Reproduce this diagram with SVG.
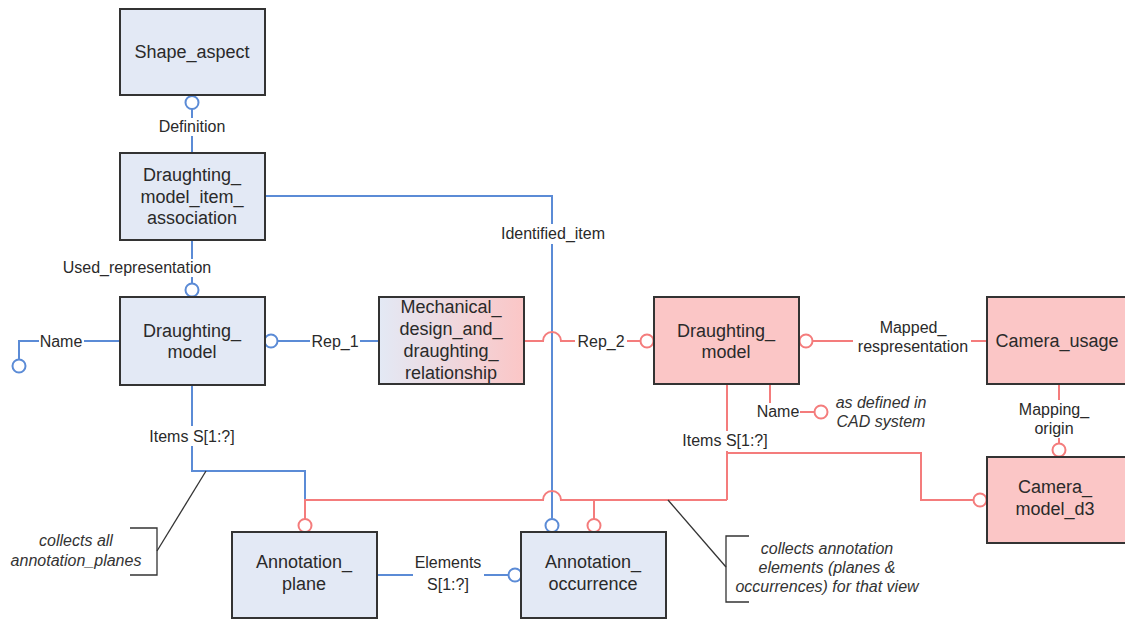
<svg xmlns="http://www.w3.org/2000/svg" width="1125" height="619" viewBox="0 0 1125 619">
  <defs>
    <linearGradient id="mixFill" x1="0" y1="0" x2="1" y2="0">
      <stop offset="0" stop-color="#e3e9f5"/>
      <stop offset="1" stop-color="#fbc6c6"/>
    </linearGradient>
    <style>
      .box { stroke: #333; stroke-width: 2; }
      .blue-box { fill: #e3e9f5; }
      .red-box { fill: #fbc6c6; }
      .mix-box { fill: url(#mixFill); }
      .node-text { font-family: "Liberation Sans", Arial, sans-serif; font-size: 18px; fill: #2a2a2a; text-anchor: middle; }
      .lbl { font-family: "Liberation Sans", Arial, sans-serif; font-size: 16px; fill: #2a2a2a; text-anchor: middle; }
      .note { font-family: "Liberation Sans", Arial, sans-serif; font-size: 16px; font-style: italic; fill: #333; text-anchor: middle; }
      .bl { fill: none; stroke: #5b8bd6; stroke-width: 2; }
      .rd { fill: none; stroke: #f47c7c; stroke-width: 2; }
      .bl-c { fill: #fff; stroke: #5b8bd6; stroke-width: 2; }
      .rd-c { fill: #fff; stroke: #f47c7c; stroke-width: 2; }
      .call { fill: none; stroke: #333; stroke-width: 1.3; }
      .bg { fill: #fff; }
    </style>
  </defs>

  <rect width="1125" height="619" fill="#fff"/>

  <!-- connectors -->
  <g id="connectors">
    <!-- blue: Shape_aspect / Draughting_model_item_association -->
    <path class="bl" d="M192,109 V153"/>
    <circle class="bl-c" cx="192" cy="102.5" r="6.5"/>
    <!-- blue: association to Draughting_model -->
    <path class="bl" d="M192,240 V283.5"/>
    <circle class="bl-c" cx="192" cy="290" r="6.5"/>
    <!-- blue: identified item -->
    <path class="bl" d="M265,196 H552 V518.5"/>
    <circle class="bl-c" cx="552" cy="525.5" r="6.5"/>
    <!-- blue: Name (left) -->
    <path class="bl" d="M120,341 H19 V359.5"/>
    <circle class="bl-c" cx="19" cy="366" r="6.5"/>
    <!-- blue: Rep_1 -->
    <path class="bl" d="M277.5,341 H379"/>
    <circle class="bl-c" cx="271" cy="341" r="6.5"/>
    <!-- blue: Items of Draughting_model -->
    <path class="bl" d="M192,385 V471 H305 V500"/>
    <!-- blue: Elements -->
    <path class="bl" d="M377,575 H508.5"/>
    <circle class="bl-c" cx="515" cy="575" r="6.5"/>

    <!-- red: Rep_2 with hop over the blue line -->
    <path class="rd" d="M524,341 H543 A9,9 0 0 1 561,341 H640.5"/>
    <circle class="rd-c" cx="647" cy="341" r="6.5"/>
    <!-- red: Mapped_respresentation -->
    <path class="rd" d="M812.5,341 H987"/>
    <circle class="rd-c" cx="806" cy="341" r="6.5"/>
    <!-- red: Mapping_origin -->
    <path class="rd" d="M1059,384 V443.5"/>
    <circle class="rd-c" cx="1059" cy="450" r="6.5"/>
    <!-- red: Name (right) -->
    <path class="rd" d="M770,384 V412 H814.5"/>
    <circle class="rd-c" cx="821" cy="412" r="6.5"/>
    <!-- red: Items of Draughting_model (view) -->
    <path class="rd" d="M727,384 V500"/>
    <path class="rd" d="M305,519 V500 H543 A9,9 0 0 1 561,500 H727"/>
    <path class="rd" d="M727,453 H921 V500 H973.5"/>
    <path class="rd" d="M594,500 V519"/>
    <circle class="rd-c" cx="305" cy="525.5" r="6.5"/>
    <circle class="rd-c" cx="594" cy="525.5" r="6.5"/>
    <circle class="rd-c" cx="980" cy="500" r="6.5"/>

    <!-- callout leaders and brackets -->
    <path class="call" d="M206,471 L157,551"/>
    <path class="call" d="M130,528 H157 V575 H130"/>
    <path class="call" d="M668,500 L726,567"/>
    <path class="call" d="M749,536 H726 V602 H749"/>
  </g>

  <!-- connector labels -->
  <g id="labels">
    <rect class="bg" x="158" y="118" width="68" height="18"/>
    <text class="lbl" x="192" y="132">Definition</text>
    <rect class="bg" x="60" y="259" width="154" height="18"/>
    <text class="lbl" x="137" y="273">Used_representation</text>
    <rect class="bg" x="499" y="224" width="110" height="20"/>
    <text class="lbl" x="553" y="239">Identified_item</text>
    <rect class="bg" x="39" y="332" width="45" height="18"/>
    <text class="lbl" x="61" y="347">Name</text>
    <rect class="bg" x="310" y="332" width="50" height="18"/>
    <text class="lbl" x="335" y="347">Rep_1</text>
    <rect class="bg" x="575" y="332" width="52" height="18"/>
    <text class="lbl" x="601" y="347">Rep_2</text>
    <rect class="bg" x="146" y="426" width="92" height="20"/>
    <text class="lbl" x="192" y="442">Items S[1:?]</text>
    <rect class="bg" x="413" y="555" width="71" height="40"/>
    <text class="lbl" x="448" y="568">Elements</text>
    <text class="lbl" x="448" y="590">S[1:?]</text>
    <rect class="bg" x="853" y="318" width="118" height="40"/>
    <text class="lbl" x="913" y="333">Mapped_</text>
    <text class="lbl" x="913" y="352">respresentation</text>
    <rect class="bg" x="1016" y="400" width="78" height="38"/>
    <text class="lbl" x="1054" y="415">Mapping_</text>
    <text class="lbl" x="1054" y="434">origin</text>
    <rect class="bg" x="756" y="403" width="44" height="18"/>
    <text class="lbl" x="778" y="417">Name</text>
    <rect class="bg" x="680" y="431" width="92" height="20"/>
    <text class="lbl" x="725" y="446">Items S[1:?]</text>
  </g>

  <!-- notes -->
  <g id="notes">
    <text class="note" x="881" y="408">as defined in</text>
    <text class="note" x="881" y="427">CAD system</text>
    <text class="note" x="76" y="546">collects all</text>
    <text class="note" x="76" y="566">annotation_planes</text>
    <text class="note" x="827" y="554">collects annotation</text>
    <text class="note" x="827" y="573">elements (planes &amp;</text>
    <text class="note" x="827" y="592">occurrences) for that view</text>
  </g>

  <!-- nodes -->
  <g id="shape_aspect">
    <rect class="box blue-box" x="120" y="9" width="145" height="86"/>
    <text class="node-text" x="192" y="58">Shape_aspect</text>
  </g>
  <g id="draughting_model_item_association">
    <rect class="box blue-box" x="120" y="153" width="145" height="87"/>
    <text class="node-text" x="192" y="181">Draughting_</text>
    <text class="node-text" x="192" y="203">model_item_</text>
    <text class="node-text" x="192" y="224">association</text>
  </g>
  <g id="draughting_model_design">
    <rect class="box blue-box" x="120" y="297" width="145" height="88"/>
    <text class="node-text" x="192" y="337">Draughting_</text>
    <text class="node-text" x="192" y="358">model</text>
  </g>
  <g id="mechanical_design_and_draughting_relationship">
    <rect class="box mix-box" x="379" y="297" width="145" height="87"/>
    <text class="node-text" x="451" y="313">Mechanical_</text>
    <text class="node-text" x="451" y="335">design_and_</text>
    <text class="node-text" x="451" y="357">draughting_</text>
    <text class="node-text" x="451" y="379">relationship</text>
  </g>
  <g id="draughting_model_view">
    <rect class="box red-box" x="654" y="297" width="145" height="87"/>
    <text class="node-text" x="726" y="337">Draughting_</text>
    <text class="node-text" x="726" y="358">model</text>
  </g>
  <g id="camera_usage">
    <rect class="box red-box" x="987" y="297" width="142" height="87"/>
    <text class="node-text" x="1057" y="347">Camera_usage</text>
  </g>
  <g id="camera_model_d3">
    <rect class="box red-box" x="987" y="457" width="142" height="86"/>
    <text class="node-text" x="1055" y="493">Camera_</text>
    <text class="node-text" x="1055" y="515">model_d3</text>
  </g>
  <g id="annotation_plane">
    <rect class="box blue-box" x="232" y="532" width="145" height="86"/>
    <text class="node-text" x="304" y="568">Annotation_</text>
    <text class="node-text" x="304" y="590">plane</text>
  </g>
  <g id="annotation_occurrence">
    <rect class="box blue-box" x="521" y="532" width="145" height="86"/>
    <text class="node-text" x="593" y="568">Annotation_</text>
    <text class="node-text" x="593" y="590">occurrence</text>
  </g>
</svg>
